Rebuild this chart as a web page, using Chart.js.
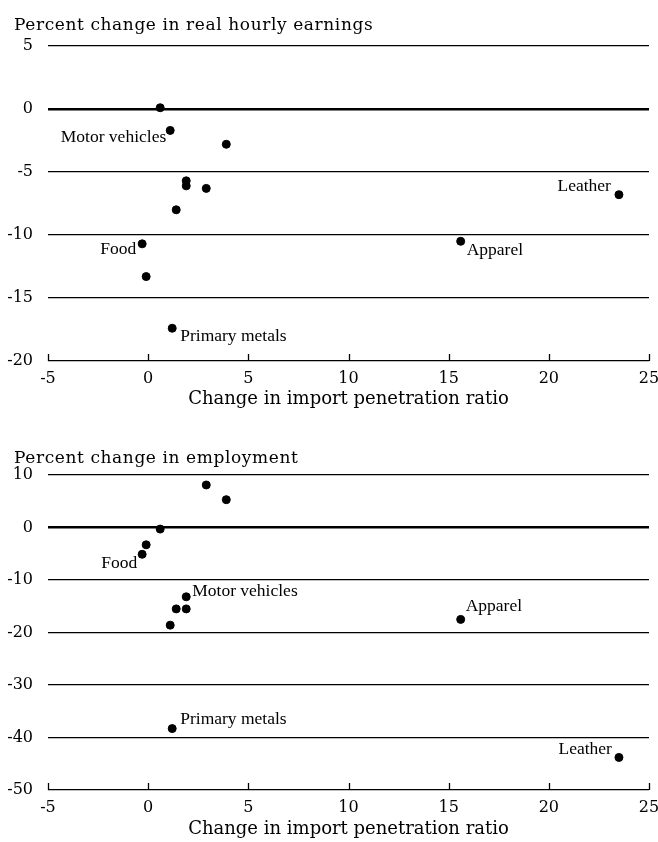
<!DOCTYPE html>
<html>
<head>
<meta charset="utf-8">
<script src="https://cdn.jsdelivr.net/npm/chart.js@4"></script>
<style>
  html, body { margin: 0; padding: 0; background: #fff; overflow: hidden; }
  .wrap { position: absolute; left: 0; width: 658px; }
  #top { top: 0; height: 420px; }
  #bottom { top: 429px; height: 413px; }
</style>
</head>
<body>
<div class="wrap" id="top"><canvas id="earnings"></canvas></div>
<div class="wrap" id="bottom"><canvas id="employment"></canvas></div>
<script>
// change in import penetration ratio (x) for each industry point
const earningsX = [0.6, 1.1, 3.9, 1.9, 1.9, 2.9, 1.4, -0.3, -0.1, 1.2, 15.6, 23.5]
const earningsY = [0.1, -1.7, -2.8, -5.7, -6.1, -6.3, -8.0, -10.7, -13.3, -17.4, -10.5, -6.8]
const earningsNames = ['', 'Motor vehicles', '', '', '', '', '', 'Food', '', 'Primary metals', 'Apparel', 'Leather']

const employmentX = [2.9, 3.9, 0.6, -0.1, -0.3, 1.9, 1.4, 1.9, 1.1, 1.2, 15.6, 23.5]
const employmentY = [8.1, 5.3, -0.3, -3.3, -5.1, -13.2, -15.5, -15.5, -18.6, -38.3, -17.5, -43.8]
const employmentNames = ['', '', '', '', 'Food', 'Motor vehicles', '', '', '', 'Primary metals', 'Apparel', 'Leather']

const xTicks = [-5, 0, 5, 10, 15, 20, 25]
const earningsTicks = [-20, -15, -10, -5, 0, 5]
const employmentTicks = [-50, -40, -30, -20, -10, 0, 10]

// where each name sits relative to its dot: [dx, dy, align]
const earningsLabelPos = {
  'Motor vehicles': [-4, 7, 'right'],
  'Food': [-6, 6, 'right'],
  'Primary metals': [8, 8, 'left'],
  'Apparel': [6, 9, 'left'],
  'Leather': [-8, -8, 'right']
}
const employmentLabelPos = {
  'Food': [-5, 9, 'right'],
  'Motor vehicles': [6, -5, 'left'],
  'Primary metals': [8, -9, 'left'],
  'Apparel': [5, -13, 'left'],
  'Leather': [-7, -8, 'right']
}

const tickFont = { family: 'DejaVu Serif', size: 16 }
const axisTitleFont = { family: 'DejaVu Serif', size: 18 }
const headFont = '17px "DejaVu Serif"'
const labelFont = '17.5px "Liberation Serif"'

// chart heading, names next to dots, little tick marks pointing up from the bottom axis
const decorations = {
  id: 'decorations',
  afterDatasetsDraw(chart, args, opts) {
    const ctx = chart.ctx
    const area = chart.chartArea
    ctx.save()
    ctx.fillStyle = '#000'
    ctx.textBaseline = 'alphabetic'
    ctx.textAlign = 'left'
    ctx.font = headFont
    ctx.letterSpacing = '0.6px'
    ctx.fillText(opts.heading, 14, opts.headingY)
    ctx.letterSpacing = '0px'

    const meta = chart.getDatasetMeta(0)
    ctx.font = labelFont
    ctx.textBaseline = 'middle'
    opts.names.forEach((name, i) => {
      if (!name) return
      const el = meta.data[i]
      const [dx, dy, align] = opts.pos[name]
      ctx.textAlign = align
      ctx.fillText(name, el.x + dx, el.y + dy)
    })

    const xs = chart.scales.x
    ctx.strokeStyle = '#000'
    ctx.lineWidth = 1.3
    xTicks.forEach(v => {
      const px = Math.round(xs.getPixelForValue(v)) + 0.5
      ctx.beginPath()
      ctx.moveTo(px, area.bottom)
      ctx.lineTo(px, area.bottom - 7)
      ctx.stroke()
    })
    ctx.restore()
  }
}

function makeChart(id, heading, headingY, xs, ys, names, yTicks, labelPos, xHeight, xTitlePad) {
  const ctx = document.getElementById(id).getContext('2d')
  return new Chart(ctx, {
    type: 'scatter',
    data: {
      datasets: [{
        data: xs.map((x, i) => ({ x: x, y: ys[i] })),
        backgroundColor: '#000',
        borderColor: '#000',
        pointRadius: 4,
        pointHoverRadius: 4
      }]
    },
    options: {
      responsive: true,
      maintainAspectRatio: false,
      animation: false,
      events: [],
      layout: { padding: { left: 0, right: 9, top: 46, bottom: 0 } },
      plugins: {
        legend: { display: false },
        tooltip: { enabled: false },
        title: { display: false },
        decorations: { heading: heading, headingY: headingY, names: names, pos: labelPos }
      },
      scales: {
        x: {
          type: 'linear',
          min: xTicks[0],
          max: xTicks[xTicks.length - 1],
          afterBuildTicks: s => { s.ticks = xTicks.map(v => ({ value: v })) },
          afterFit: s => { s.height = xHeight; s.paddingLeft = 0; s.paddingRight = 0 },
          grid: { display: false, drawTicks: false },
          border: { display: false },
          ticks: { color: '#000', font: tickFont, padding: 8, maxRotation: 0 },
          title: {
            display: true,
            text: 'Change in import penetration ratio',
            color: '#000',
            font: axisTitleFont,
            padding: { top: 0, bottom: xTitlePad }
          }
        },
        y: {
          type: 'linear',
          min: yTicks[0],
          max: yTicks[yTicks.length - 1],
          afterBuildTicks: s => { s.ticks = yTicks.map(v => ({ value: v })) },
          afterFit: s => { s.width = 48; s.paddingTop = 0; s.paddingBottom = 0 },
          grid: {
            color: '#000',
            drawTicks: false,
            lineWidth: c => (c.tick && c.tick.value === 0 ? 2.6 : 1.3)
          },
          border: { display: false },
          ticks: { color: '#000', font: tickFont, padding: 15 }
        }
      }
    },
    plugins: [decorations]
  })
}

makeChart('earnings', 'Percent change in real hourly earnings', 30,
  earningsX, earningsY, earningsNames, earningsTicks, earningsLabelPos, 59, 10)
makeChart('employment', 'Percent change in employment', 34,
  employmentX, employmentY, employmentNames, employmentTicks, employmentLabelPos, 52, 2)
</script>
</body>
</html>
